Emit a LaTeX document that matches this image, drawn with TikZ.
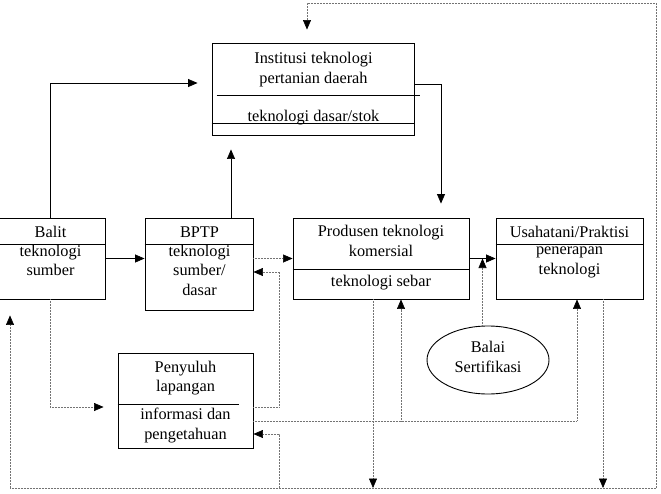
\documentclass[tikz,border=0pt]{standalone}
\usepackage{fontspec}
\setmainfont{Liberation Serif}
\usetikzlibrary{arrows.meta,calc,positioning,shapes.geometric}

\begin{document}
\begin{tikzpicture}[x=1pt,y=-1pt,
	box/.style={draw,line width=0.9pt,inner sep=0pt},
	txt/.style={align=center,inner sep=0pt,font=\fontsize{16.3}{19.5}\selectfont,
		execute at begin node=\strut,execute at end node=\strut},
	arr/.style={line width=0.7pt,-{Triangle[length=9.5pt,width=8pt]}},
	dots/.style={line width=0.6pt,black!55,dash pattern=on 0.6pt off 0.9pt},
	dotarr/.style={dots,-{Triangle[length=9.5pt,width=8pt,black]}}]
	\useasboundingbox (0,0) rectangle (661,493);

	% boxes
	\node[box,minimum width=202pt,minimum height=92pt] (inst) at (313,89) {};
	\node[box,minimum width=107pt,minimum height=81pt] (balit) at (51.5,258.5) {};
	\node[box,minimum width=108pt,minimum height=92pt] (bptp) at (199,264) {};
	\node[box,minimum width=176pt,minimum height=81pt] (prod) at (381,258.5) {};
	\node[box,minimum width=147pt,minimum height=81pt] (usaha) at (569.5,258.5) {};
	\node[box,minimum width=135pt,minimum height=95pt] (peny) at (185.5,400.5) {};
	\node[box,txt,ellipse,minimum width=122pt,minimum height=68pt] (balai) at (488,360) {Balai\\Sertifikasi};

	% dividers
	\draw[line width=0.9pt] ([xshift=5pt,yshift=-6pt]inst.west) -- ([xshift=6pt,yshift=-6pt]inst.east);
	\draw[line width=0.9pt] ([yshift=-34pt]inst.west) -- ([yshift=-34pt]inst.east);
	\draw[line width=0.9pt] ([yshift=14.5pt]balit.west) -- ([yshift=14.5pt]balit.east);
	\draw[line width=0.9pt] ([yshift=20pt]bptp.west) -- ([yshift=20pt]bptp.east);
	\draw[line width=0.9pt] ([yshift=-10.5pt]prod.west) -- ([yshift=-10.5pt]prod.east);
	\draw[line width=0.9pt] ([yshift=14.5pt]usaha.west) -- ([yshift=14.5pt]usaha.east);
	\draw[line width=0.9pt] ([yshift=-3.5pt]peny.west) -- ([xshift=-14pt,yshift=-3.5pt]peny.east);

	% texts
	\node[txt] (instA) at (313.5,71) {Institusi teknologi\\pertanian daerah};
	\node[txt] (instB) at (313.5,118) {teknologi dasar/stok};
	\node[txt] (balitA) at (50.5,234) {Balit};
	\node[txt] (balitB) at (50.5,263.5) {teknologi\\sumber};
	\node[txt] (bptpA) at (199.5,234) {BPTP};
	\node[txt] (bptpB) at (199.5,273) {teknologi\\sumber/\\dasar};
	\node[txt] (prodA) at (381,244) {Produsen teknologi\\komersial};
	\node[txt] (prodB) at (381,283) {teknologi sebar};
	\node[txt] (usahaA) at (569.5,234) {Usahatani/Praktisi};
	\node[txt] (usahaB) at (569.5,263.5) {penerapan\\teknologi};
	\node[txt] (penyA) at (185.5,379.5) {Penyuluh\\lapangan};
	\node[txt] (penyB) at (185.5,426.5) {informasi dan\\pengetahuan};

	% solid links
	\draw[arr,shorten >=14pt] ([xshift=-1.5pt]balit.north) |- ([yshift=6pt]inst.west);
	\draw[arr,shorten >=14pt] ([xshift=32pt]bptp.north) -- ([xshift=-82pt]inst.south);
	\draw[arr,shorten >=14pt] ([yshift=5pt]inst.east) -| ([xshift=60pt]prod.north);
	\draw[arr] (balit.east) -- (balit.east -| bptp.west);
	\draw[arr] (prod.east) -- (usaha.west);

	% dotted links
	\coordinate (link) at ($(prod.east)!0.5!(usaha.west)$);
	\coordinate (busl) at (10,488);
	\coordinate (busr) at (656,488);
	\coordinate (busp) at (279,488);
	\coordinate (topr) at (656,3);
	\coordinate (pd) at ([xshift=-8pt]prod.south);
	\coordinate (ud) at ([xshift=33.5pt]usaha.south);

	\draw[dotarr] (prod.west -| bptp.east) -- (prod.west);
	\draw[dotarr] (balai.north -| link) -- (link);
	\draw[dotarr,shorten >=14pt] ([xshift=-1.5pt]balit.south) |- ([yshift=-6.5pt]peny.west);
	\draw[dotarr] ([yshift=-6.5pt]peny.east) -- ++(26,0) |- ([yshift=-8pt]bptp.east);
	\draw[dotarr] ([yshift=-20.5pt]peny.east) -| ([xshift=7.5pt]usaha.south);
	\draw[dotarr] ([yshift=-20.5pt]peny.east) -| ([xshift=20pt]prod.south);
	\draw[dots] (busl) -- (busr);
	\draw[dotarr] (pd) -- (pd |- busl);
	\draw[dotarr] (ud) -- (ud |- busl);
	\draw[dotarr,shorten >=16pt] (busl) -- (busl |- balit.south);
	\draw[dotarr] (busp) |- ([yshift=-33.5pt]peny.east);
	\draw[dotarr,shorten >=13pt] (busr) -- (topr) -| ([xshift=-6pt]inst.north);
\end{tikzpicture}
\end{document}
